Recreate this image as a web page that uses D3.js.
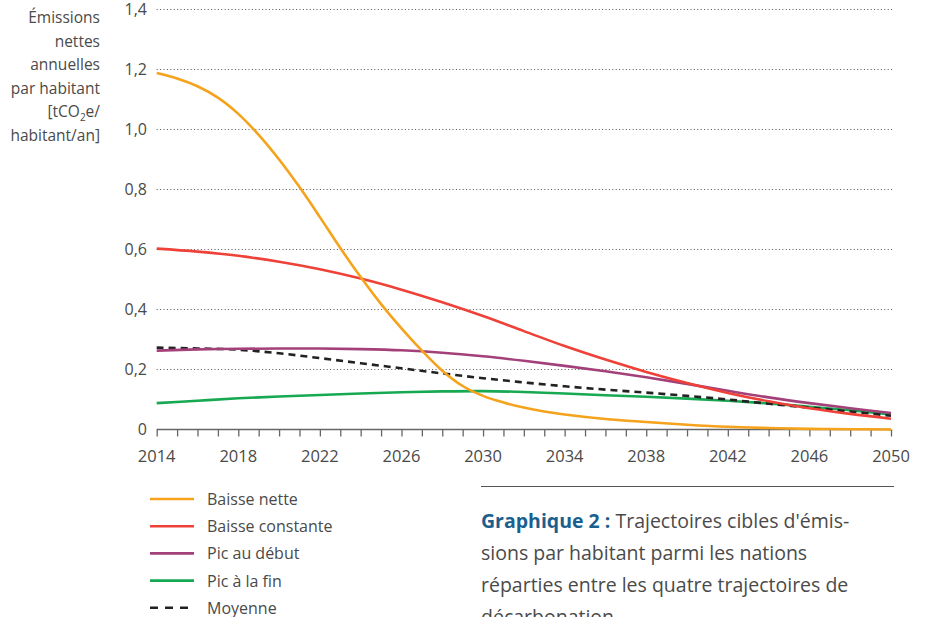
<!DOCTYPE html>
<html>
<head>
<meta charset="utf-8">
<style>
  body { margin: 0; background: #fff; }
  text { font-family: "Open Sans", Lato, sans-serif; }
</style>
</head>
<body>
<div id="chart"></div>
<script src="https://d3js.org/d3.v7.min.js"></script>
<script>
// years used for most series (every 2 years)
var years = [2014, 2016, 2018, 2020, 2022, 2024, 2026, 2028, 2030, 2032, 2034, 2036, 2038, 2040, 2042, 2044, 2046, 2048, 2050];
// "Baisse nette" is steep, so it gets yearly points where it drops
var yearsNette = [2014, 2015, 2016, 2017, 2018, 2019, 2020, 2021, 2022, 2023, 2024, 2025, 2026, 2027, 2028, 2029, 2030, 2031, 2032, 2033, 2034, 2036, 2038, 2040, 2042, 2044, 2046, 2048, 2050];

var baisseNette = [1.188, 1.17, 1.144, 1.106, 1.052, 0.982, 0.9, 0.808, 0.708, 0.605, 0.508, 0.418, 0.337, 0.263, 0.196, 0.145, 0.112, 0.09, 0.073, 0.06, 0.05, 0.035, 0.025, 0.016, 0.009, 0.005, 0.002, 0.001, 0.0];
var baisseConstante = [0.603, 0.593, 0.579, 0.559, 0.534, 0.503, 0.466, 0.424, 0.378, 0.328, 0.278, 0.233, 0.192, 0.155, 0.122, 0.094, 0.071, 0.052, 0.036];
var picDebut = [0.263, 0.267, 0.269, 0.27, 0.27, 0.268, 0.264, 0.256, 0.244, 0.229, 0.212, 0.194, 0.174, 0.152, 0.129, 0.107, 0.088, 0.071, 0.055];
var picFin = [0.088, 0.096, 0.104, 0.11, 0.115, 0.12, 0.124, 0.127, 0.128, 0.125, 0.12, 0.114, 0.109, 0.103, 0.096, 0.087, 0.076, 0.064, 0.05];
var moyenne = [0.273, 0.27, 0.266, 0.254, 0.238, 0.221, 0.204, 0.187, 0.171, 0.157, 0.144, 0.133, 0.123, 0.112, 0.1, 0.086, 0.073, 0.06, 0.046];

var yTicks = [0, 0.2, 0.4, 0.6, 0.8, 1.0, 1.2, 1.4];
var xTickLabels = [2014, 2018, 2022, 2026, 2030, 2034, 2038, 2042, 2046, 2050];

var series = [
  { name: "Baisse nette", x: yearsNette, y: baisseNette, color: "#f5a31c", dash: null },
  { name: "Baisse constante", x: years, y: baisseConstante, color: "#ee4138", dash: null },
  { name: "Pic au début", x: years, y: picDebut, color: "#a3407a", dash: null },
  { name: "Pic à la fin", x: years, y: picFin, color: "#17a852", dash: null },
  { name: "Moyenne", x: years, y: moyenne, color: "#222", dash: "7,5" }
];
// draw order: the dashed average sits on top of green, under the rest
var drawOrder = [3, 4, 2, 1, 0];

var width = 925, height = 617;
var svg = d3.select("#chart").append("svg")
  .attr("width", width)
  .attr("height", height);

var x = d3.scaleLinear().domain([2014, 2050]).range([156.7, 891]);
var y = d3.scaleLinear().domain([0, 1.4]).range([429.5, 9.5]);

// dotted grid lines
svg.append("g")
  .selectAll("line")
  .data(yTicks.filter(function(d) { return d > 0; }))
  .enter().append("line")
  .attr("x1", x(2014))
  .attr("x2", x(2050) + 2)
  .attr("y1", function(d) { return y(d); })
  .attr("y2", function(d) { return y(d); })
  .style("stroke", "#555")
  .style("stroke-width", 1.1)
  .style("stroke-dasharray", "1,2.4");

// y tick labels
svg.append("g")
  .selectAll("text")
  .data(yTicks)
  .enter().append("text")
  .attr("x", 147)
  .attr("y", function(d) { return y(d) + 5.5; })
  .attr("text-anchor", "end")
  .style("font-size", "16px")
  .style("fill", "#4a4a4a")
  .text(function(d) { return d === 0 ? "0" : d3.format(".1f")(d).replace(".", ","); });

// x axis, one tick per year
var xAxis = d3.axisBottom(x)
  .tickValues(d3.range(2014, 2051))
  .tickSize(7)
  .tickFormat("");
var gx = svg.append("g")
  .attr("transform", "translate(0," + y(0) + ")")
  .call(xAxis);
gx.select(".domain").attr("d", "M" + x(2014) + ",0H" + x(2050)).style("stroke", "#666").style("stroke-width", 1.5);
gx.selectAll(".tick line").style("stroke", "#666").style("stroke-width", 1.3);

svg.append("g")
  .selectAll("text")
  .data(xTickLabels)
  .enter().append("text")
  .attr("x", function(d) { return x(d); })
  .attr("y", 461.5)
  .attr("text-anchor", "middle")
  .style("font-size", "16.5px")
  .style("fill", "#4a4a4a")
  .text(function(d) { return d; });

// y axis title
var titleLines = ["Émissions", "nettes", "annuelles", "par habitant", "[tCO₂e/", "habitant/an]"];
var yTitle = svg.append("text")
  .attr("text-anchor", "end")
  .style("font-size", "15.5px")
  .style("fill", "#4a4a4a");
titleLines.forEach(function(t, i) {
  var tspan = yTitle.append("tspan")
    .attr("x", 100)
    .attr("y", 23 + i * 23.6);
  if (i === 4) {
    tspan.text("[tCO");
    tspan.append("tspan").attr("dy", 4).style("font-size", "10px").text("2");
    tspan.append("tspan").attr("dy", -4).text("e/");
  } else {
    tspan.text(t);
  }
});

// lines
var line = d3.line()
  .x(function(d) { return x(d[0]); })
  .y(function(d) { return y(d[1]); })
  .curve(d3.curveCatmullRom.alpha(0.5));

svg.append("g")
  .selectAll("path")
  .data(drawOrder.map(function(i) { return series[i]; }))
  .enter().append("path")
  .attr("d", function(s) { return line(d3.zip(s.x, s.y)); })
  .style("fill", "none")
  .style("stroke", function(s) { return s.color; })
  .style("stroke-width", 2.6)
  .style("stroke-dasharray", function(s) { return s.dash; });

// legend
var legend = svg.append("g")
  .selectAll("g")
  .data(series)
  .enter().append("g")
  .attr("transform", function(d, i) { return "translate(0," + (499 + i * 27.2) + ")"; });
legend.append("line")
  .attr("x1", 150).attr("x2", 194)
  .style("stroke", function(d) { return d.color; })
  .style("stroke-width", 2.6)
  .style("stroke-dasharray", function(d) { return d.dash ? "8,7" : null; });
legend.append("text")
  .attr("x", 207)
  .attr("y", 6)
  .style("font-size", "16px")
  .style("fill", "#4a4a4a")
  .text(function(d) { return d.name; });

// caption
svg.append("line")
  .attr("x1", 481).attr("x2", 894)
  .attr("y1", 486.5).attr("y2", 486.5)
  .style("stroke", "#555")
  .style("stroke-width", 1.2);

var captionLines = ["Trajectoires cibles d'émis-", "sions par habitant parmi les nations", "réparties entre les quatre trajectoires de", "décarbonation."];
var caption = svg.append("text")
  .style("font-size", "19.5px")
  .style("fill", "#4a4a4a");
captionLines.forEach(function(t, i) {
  var ts = caption.append("tspan").attr("x", 481).attr("y", 528 + i * 32);
  if (i === 0) {
    ts.append("tspan").style("font-weight", "bold").style("fill", "#1b5f8f").text("Graphique 2 : ");
    ts.append("tspan").text(t);
  } else {
    ts.text(t);
  }
});
</script>
</body>
</html>
